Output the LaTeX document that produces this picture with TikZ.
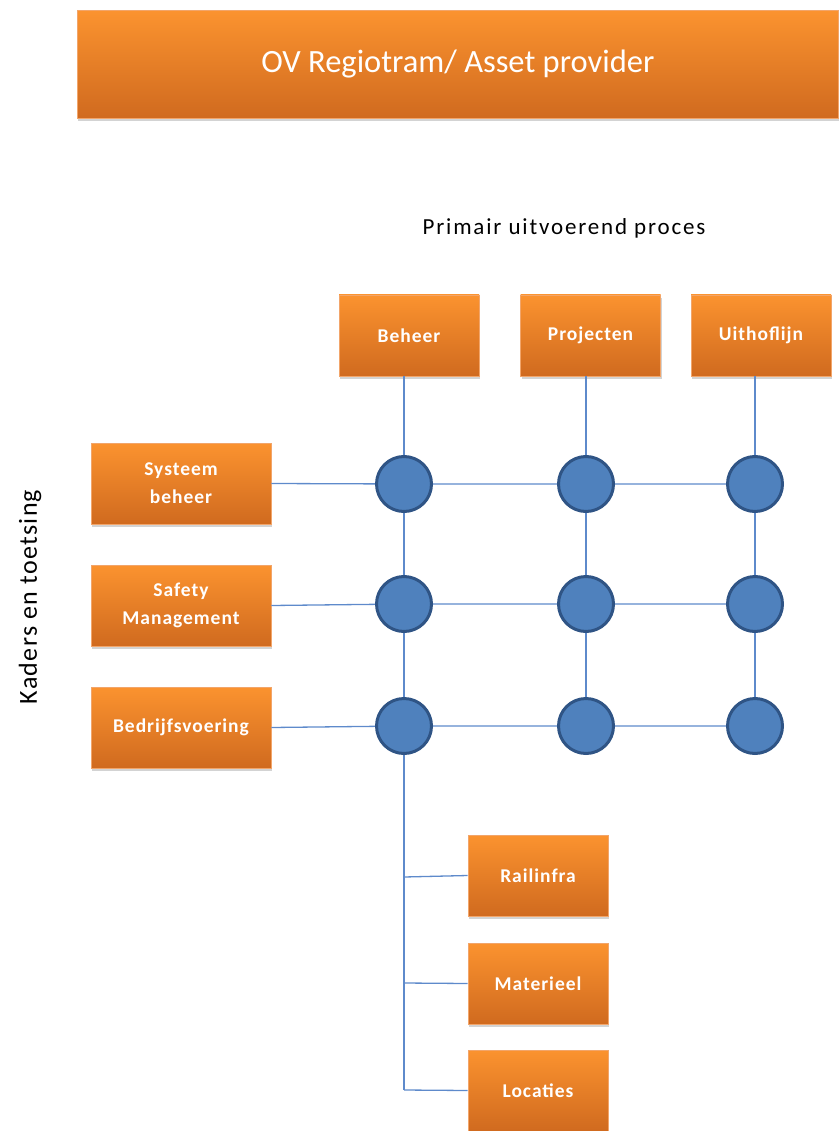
\documentclass[tikz,border=0pt]{standalone}
\usepackage{fontspec}
\setmainfont{Carlito}
\newfontfamily\boxfont[LetterSpace=5]{Carlito}
\newfontfamily\primfont[LetterSpace=8]{Carlito}
\newfontfamily\kadfont[LetterSpace=5]{Carlito}
\usetikzlibrary{shadows}
\definecolor{otop}{HTML}{FB932F}
\definecolor{obot}{HTML}{D06A1F}
\definecolor{oedge}{HTML}{F2A56A}
\definecolor{lnk}{HTML}{5E8ACB}
\definecolor{cfill}{HTML}{4F81BD}
\definecolor{cedge}{HTML}{2F5485}
\tikzset{
  obox/.style={rectangle, draw=oedge, line width=0.6pt, top color=otop, bottom color=obot,
    minimum width=140pt, minimum height=81pt, inner sep=2pt, align=center,
    text=white, font=\boxfont\bfseries\fontsize{19.5}{28}\selectfont,
    drop shadow={opacity=0.35, shadow xshift=1pt, shadow yshift=-3pt}},
  lbox/.style={obox, minimum width=180pt},
  hub/.style={circle, fill=cfill, draw=cedge, line width=3pt, minimum size=55pt, inner sep=0pt},
  lnkline/.style={draw=lnk, line width=1.3pt},
  plain/.style={text=black}
}
\begin{document}
\begin{tikzpicture}[x=1pt,y=-1pt]
\useasboundingbox (0,0) rectangle (838,1131);
% header
\node[obox, minimum width=761pt, minimum height=108pt, anchor=north west,
  font=\fontsize{32.5}{38}\selectfont] (head) at (77,10) {OV Regiotram/ Asset provider};
\node[plain, font=\primfont\fontsize{23}{28}\selectfont] (prim) at (564,228) {Primair uitvoerend proces};
\node[plain, rotate=90, font=\kadfont\fontsize{26}{30}\selectfont] (kad) at (30,597) {Kaders en toetsing};
% top boxes
\node[obox] (beh) at (409,335.5) {Beheer};
\node[obox] (proj) at (590.5,335.5) {Projecten};
\node[obox] (uit) at (761,335.5) {Uithoflijn};
% left boxes
\node[lbox] (sys) at (181,483.5) {Systeem\\beheer};
\node[lbox] (saf) at (181,605.5) {Safety\\Management};
\node[lbox] (bed) at (181,727.5) {Bedrijfsvoering};
% bottom boxes
\node[obox] (rail) at (538,875.5) {Railinfra};
\node[obox] (mat) at (538,983.5) {Materieel};
\node[obox] (loc) at (538,1090.5) {Locaties};
% hub positions
\coordinate (c11) at (404,484);
\coordinate (c12) at (586,484);
\coordinate (c13) at (755,484);
\coordinate (c21) at (404,604);
\coordinate (c22) at (586,604);
\coordinate (c23) at (755,604);
\coordinate (c31) at (404,726);
\coordinate (c32) at (586,726);
\coordinate (c33) at (755,726);
\coordinate (b1) at (404,877);
\coordinate (b2) at (404,983);
\coordinate (b3) at (404,1090);
% connectors
\path[lnkline] (beh.south -| c11) -- (c11) -- (c21) -- (c31) -- (b3);
\path[lnkline] (proj.south -| c12) -- (c12) -- (c22) -- (c32);
\path[lnkline] (uit.south -| c13) -- (c13) -- (c23) -- (c33);
\path[lnkline] (sys.east) -- (c11) -- (c12) -- (c13);
\path[lnkline] (saf.east) -- (c21) -- (c22) -- (c23);
\path[lnkline] (bed.east) -- (c31) -- (c32) -- (c33);
\path[lnkline] (b1) -- (rail.west);
\path[lnkline] (b2) -- (mat.west);
\path[lnkline] (b3) -- (loc.west);
% hubs on top of the lines
\foreach \n in {c11,c12,c13,c21,c22,c23,c31,c32,c33}
  \node[hub] (h\n) at (\n) {};
\end{tikzpicture}
\end{document}
